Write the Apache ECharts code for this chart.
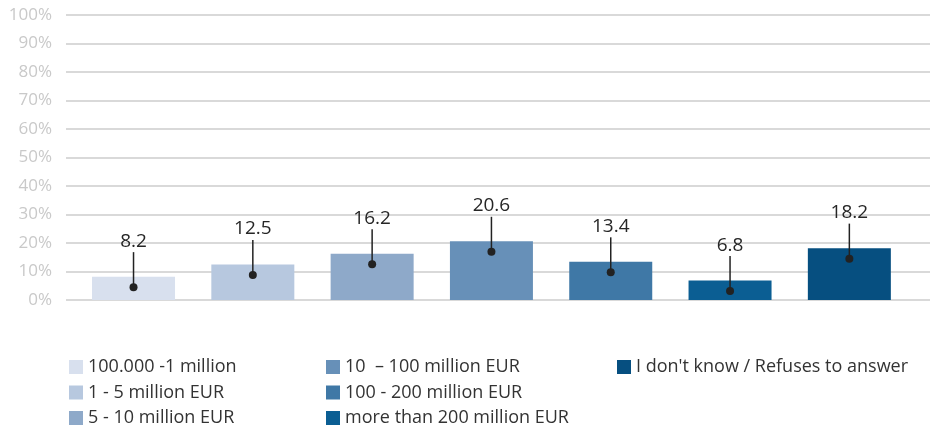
<!DOCTYPE html>
<html>
<head>
<meta charset="utf-8">
<script src="https://cdn.jsdelivr.net/npm/echarts@6/dist/echarts.min.js"></script>
<style>
  html, body { margin: 0; padding: 0; background: #fff; }
  #chart { width: 937px; height: 430px; }
</style>
</head>
<body>
<div id="chart"></div>
<script>
// categories (one per bar / legend entry)
const categories = [
  '100.000 -1 million',
  '1 - 5 million EUR',
  '5 - 10 million EUR',
  '10  \u2013 100 million EUR',
  '100 - 200 million EUR',
  'more than 200 million EUR',
  "I don't know / Refuses to answer"
];
// share in percent
const values = [8.2, 12.5, 16.2, 20.6, 13.4, 6.8, 18.2];
const colors = ['#d8e0ee', '#b7c8df', '#8ea9c9', '#6790b8', '#3f78a6', '#0b5e93', '#064f80'];

const FONT = '"Open Sans", sans-serif';

// 7 bar series so each one gets a legend entry
let barSeries = categories.map(function (name, i) {
  return {
    name: name,
    type: 'bar',
    barWidth: 83,
    barGap: '-100%',
    itemStyle: { color: colors[i] },
    data: [[i, values[i]]]
  };
});

// callout: dot inside the bar, leader line up to the value
let calloutSeries = {
  type: 'custom',
  silent: true,
  z: 10,
  data: values.map(function (v, i) { return [i, v]; }),
  renderItem: function (params, api) {
    let p = api.coord([api.value(0), api.value(1)]);
    let dy = p[1] + 10.5;
    return {
      type: 'group',
      children: [
        { type: 'line', shape: { x1: p[0], y1: dy, x2: p[0], y2: dy - 35 }, style: { stroke: '#222', lineWidth: 1.5 } },
        { type: 'circle', shape: { cx: p[0], cy: dy, r: 4 }, style: { fill: '#222' } },
        { type: 'text', style: { text: String(values[params.dataIndex]), x: p[0], y: dy - 46, align: 'center', verticalAlign: 'middle', font: '19px ' + FONT, fill: '#262626' } }
      ]
    };
  }
};

function legendCol(names, left) {
  return {
    orient: 'vertical',
    left: left,
    top: 358,
    height: 72,
    padding: 0,
    itemWidth: 14,
    itemHeight: 14,
    itemGap: 7.5,
    icon: 'rect',
    selectedMode: false,
    textStyle: { fontFamily: FONT, fontSize: 18, color: '#333', lineHeight: 18 },
    data: names
  };
}

let option = {
  animation: false,
  backgroundColor: '#fff',
  grid: { left: 66, right: 7, top: 15, bottom: 130 },
  legend: [
    legendCol(categories.slice(0, 3), 69),
    legendCol(categories.slice(3, 6), 326),
    legendCol(categories.slice(6), 617)
  ],
  xAxis: {
    type: 'value',
    min: -0.566,
    max: 6.676,
    show: false
  },
  yAxis: {
    type: 'value',
    min: 0,
    max: 100,
    interval: 10,
    axisLine: { show: false },
    axisTick: { show: false },
    axisLabel: { formatter: '{value}%', color: '#c9c9c9', fontSize: 17, fontFamily: FONT, margin: 14 },
    splitLine: { lineStyle: { color: '#d9d9d9', width: 2 } }
  },
  series: barSeries.concat([calloutSeries])
};

let myChart = echarts.init(document.getElementById('chart'));
myChart.setOption(option);
</script>
</body>
</html>
